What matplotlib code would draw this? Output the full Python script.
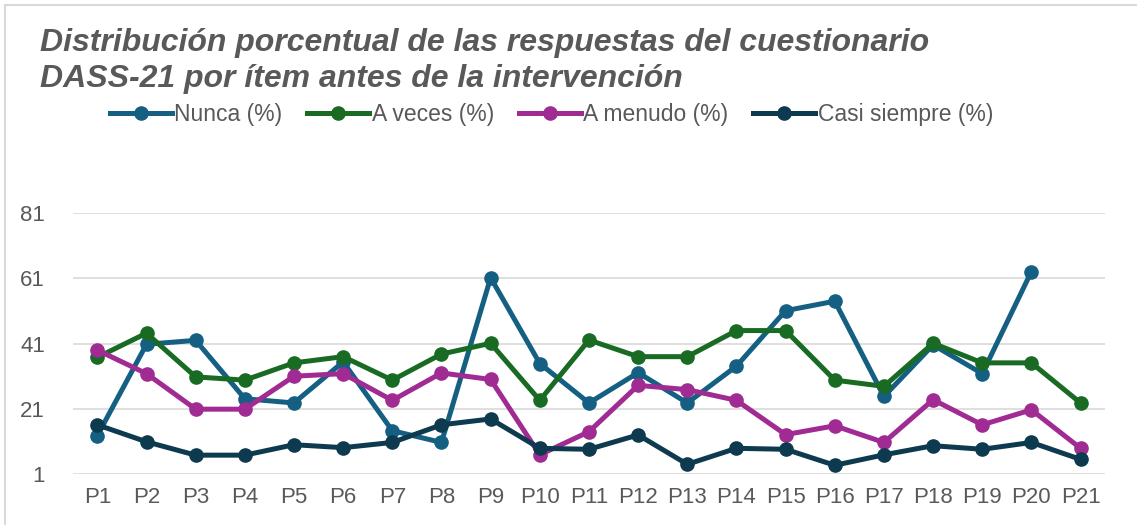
import matplotlib.pyplot as plt
from matplotlib.patches import Rectangle
import numpy as np

plt.rcParams['font.family'] = ['Liberation Sans', 'DejaVu Sans']

items = ["P%d" % i for i in range(1, 22)]

nunca = [12.8, 40.8, 42.0, 24.1, 22.8, 35.4, 14.3, 10.7, 61.2, 34.9, 22.8,
         32.1, 22.8, 34.1, 51.1, 54.0, 24.8, 40.6, 31.8, 63.1, None]
a_veces = [36.8, 44.2, 30.8, 29.8, 35.1, 37.0, 29.8, 37.8, 41.1, 23.6, 42.1,
           37.0, 37.0, 45.0, 45.0, 29.8, 27.9, 41.1, 35.1, 35.1, 22.8]
a_menudo = [39.0, 31.8, 20.9, 20.9, 31.0, 31.8, 23.6, 32.0, 30.0, 6.9, 14.0,
            28.2, 26.9, 23.6, 13.1, 15.8, 10.7, 23.8, 16.1, 20.7, 8.9]
casi_siempre = [16.1, 10.9, 6.8, 6.8, 10.0, 9.1, 10.7, 16.1, 17.9, 8.9, 8.6,
                13.0, 4.0, 8.9, 8.6, 3.7, 6.9, 9.7, 8.6, 10.7, 5.5]

series = [
    ("Nunca (%)", nunca, "#156082"),
    ("A veces (%)", a_veces, "#196B24"),
    ("A menudo (%)", a_menudo, "#A02B93"),
    ("Casi siempre (%)", casi_siempre, "#0D3A4E"),
]

fig = plt.figure(figsize=(11.37, 5.25), dpi=100)
ax = fig.add_axes([0.064, 0.097, 0.908, 0.497])

x = np.arange(len(items))
for name, vals, color in series:
    y = np.array([np.nan if v is None else v for v in vals])
    ax.plot(x, y, color=color, lw=3.6, marker="o", ms=9.5, label=name,
            solid_joinstyle="round")

ax.set_xlim(-0.5, len(items) - 0.5)
ax.set_ylim(1, 81)
ax.set_yticks([1, 21, 41, 61, 81])
ax.set_xticks(x)
ax.set_xticklabels(items)
ax.grid(axis="y", color="#d9d9d9", lw=1.2)
ax.set_axisbelow(True)
for s in ax.spines.values():
    s.set_visible(False)
ax.tick_params(length=0, labelsize=16, labelcolor="#595959")
ax.tick_params(axis="x", pad=9)
ax.tick_params(axis="y", pad=20)

title_kw = dict(fontsize=23, fontweight="bold", fontstyle="italic",
                color="#595959", va="center")
fig.text(0.035, 0.918, "Distribución porcentual de las respuestas del cuestionario",
         **title_kw)
fig.text(0.035, 0.849, "DASS-21 por ítem antes de la intervención", **title_kw)

fig.legend(loc="center", bbox_to_anchor=(0.485, 0.781), ncol=4, frameon=False,
           fontsize=16.5, labelcolor="#595959", handlelength=2.7,
           handletextpad=0.1, columnspacing=1.1)

fig.patches.append(Rectangle((0.004, -0.05), 1.1, 1.04, transform=fig.transFigure,
                             fill=False, edgecolor="#d9d9d9", lw=1.5))

fig.savefig("out.png", dpi=100)
